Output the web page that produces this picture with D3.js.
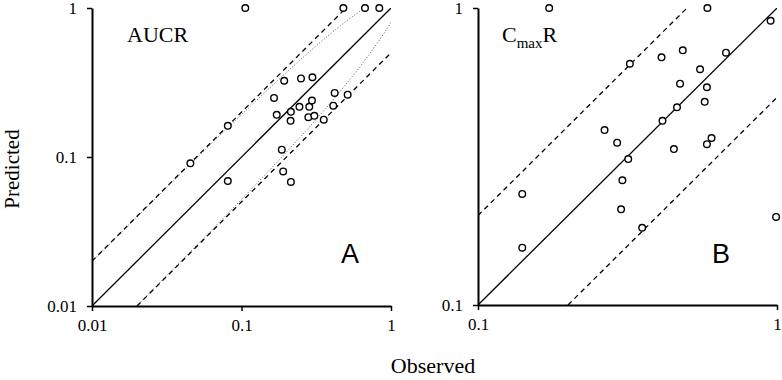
<!DOCTYPE html>
<html>
<head>
<meta charset="utf-8">
<script src="https://cdn.jsdelivr.net/npm/d3@7"></script>
<style>
  body { margin: 0; background: #fff; }
  svg { display: block; }
</style>
</head>
<body>
<div id="chart"></div>
<script>
let w = 782;
let h = 380;

// panel A - AUCR
let aucrObs  = [0.106, 0.48, 0.67, 0.835, 0.193, 0.25, 0.298, 0.165, 0.42, 0.513, 0.296, 0.284, 0.244,
                0.214, 0.411, 0.172, 0.28, 0.307, 0.213, 0.355, 0.081, 0.0455, 0.186, 0.19, 0.081, 0.214];
let aucrPred = [1, 1, 1, 1, 0.325, 0.337, 0.343, 0.249, 0.269, 0.262, 0.239, 0.217, 0.217,
                0.201, 0.221, 0.192, 0.185, 0.189, 0.175, 0.178, 0.162, 0.0907, 0.112, 0.080, 0.069, 0.068];

// panel B - CmaxR
let cmaxObs  = [0.173, 0.585, 0.952, 0.484, 0.411, 0.675, 0.322, 0.553, 0.474, 0.583, 0.573, 0.463, 0.414,
                0.265, 0.292, 0.604, 0.583, 0.452, 0.318, 0.304, 0.1406, 0.301, 0.354, 0.993, 0.1406];
let cmaxPred = [1, 1, 0.906, 0.72, 0.682, 0.707, 0.649, 0.622, 0.556, 0.541, 0.483, 0.463, 0.417,
                0.388, 0.352, 0.365, 0.348, 0.335, 0.31, 0.263, 0.2365, 0.21, 0.182, 0.198, 0.156];

let aucrTicks = [0.01, 0.1, 1];
let cmaxTicks = [0.1, 1];
let guestDelta = 1.25; // Guest limit variability

let svg = d3.select("#chart").append("svg")
  .attr("width", w)
  .attr("height", h);

function drawPanel(opt){
  let x = d3.scaleLog().domain(opt.domain).range([opt.x0, opt.x1]);
  let y = d3.scaleLog().domain(opt.domain).range([opt.y0, opt.y1]);
  let g = svg.append("g");
  let lo = opt.domain[0], hi = opt.domain[1];

  let clipId = "clip" + opt.name;
  svg.append("clipPath").attr("id", clipId)
    .append("rect")
    .attr("x", opt.x0).attr("y", opt.y1)
    .attr("width", opt.x1 - opt.x0).attr("height", opt.y0 - opt.y1);

  let lines = g.append("g").attr("clip-path", "url(#" + clipId + ")");
  let line = d3.line().x(d => x(d[0])).y(d => y(d[1]));

  // guest limit curves (dotted)
  if (opt.guest) {
    let grid = d3.range(0, 201).map(i => Math.pow(10, Math.log10(lo) + i * (Math.log10(hi) - Math.log10(lo)) / 200));
    let lim = r => 2 - (2 - guestDelta) * r;
    let up = grid.map(r => [r, r * lim(r)]).filter(d => d[1] <= 1.05);
    let dn = grid.filter(r => r >= 0.02).map(r => [r, r / lim(r)]);
    [up, dn].forEach(pts => {
      lines.append("path")
        .attr("d", line(pts))
        .attr("fill", "none")
        .attr("stroke", "#555")
        .attr("stroke-width", 1)
        .attr("stroke-dasharray", "1,2");
    });
  }

  // unity line
  lines.append("path")
    .attr("d", line([[lo, lo], [hi, hi]]))
    .attr("fill", "none").attr("stroke", "#000").attr("stroke-width", 1.3);

  // 2-fold lines
  [[[lo, 2 * lo], [hi / 2, hi]], [[2 * lo, lo], [hi, hi / 2]]].forEach(pts => {
    lines.append("path")
      .attr("d", line(pts))
      .attr("fill", "none").attr("stroke", "#000").attr("stroke-width", 1.3)
      .attr("stroke-dasharray", "5,4");
  });

  // axes
  let xAxis = d3.axisBottom(x).tickValues(opt.ticks).tickFormat(d => String(d))
    .tickSizeInner(5).tickSizeOuter(0).tickPadding(8);
  let yAxis = d3.axisLeft(y).tickValues(opt.ticks).tickFormat(d => String(d))
    .tickSizeInner(5).tickSizeOuter(0).tickPadding(opt.ypad);

  let xg = g.append("g").attr("transform", "translate(0," + opt.y0 + ")").call(xAxis);
  let yg = g.append("g").attr("transform", "translate(" + opt.x0 + ",0)").call(yAxis);
  [xg, yg].forEach(a => {
    a.select(".domain").attr("stroke-width", 2);
    a.selectAll(".tick line").attr("stroke-width", 1.5);
    a.selectAll("text")
      .style("font-family", "'Liberation Serif', 'Times New Roman', serif")
      .style("font-size", "17px")
      .attr("fill", "#000");
  });

  // points
  g.selectAll(".pt").data(opt.obs).enter()
    .append("circle")
    .attr("class", "pt")
    .attr("cx", d => x(d))
    .attr("cy", (d, i) => y(opt.pred[i]))
    .attr("r", 3.3)
    .attr("fill", "#fff")
    .attr("stroke", "#000")
    .attr("stroke-width", 1.4);

  // panel letter
  g.append("text")
    .attr("x", opt.letterX).attr("y", 263)
    .attr("text-anchor", "middle")
    .style("font-family", "'Liberation Sans', Arial, sans-serif")
    .style("font-size", "27px")
    .text(opt.letter);

  return g;
}

let gA = drawPanel({
  name: "A", domain: [0.01, 1], ticks: aucrTicks,
  x0: 92, x1: 391, y0: 306, y1: 8, ypad: 10,
  obs: aucrObs, pred: aucrPred, guest: true,
  letter: "A", letterX: 350
});

let gB = drawPanel({
  name: "B", domain: [0.1, 1], ticks: cmaxTicks,
  x0: 478, x1: 777, y0: 305, y1: 8, ypad: 10,
  obs: cmaxObs, pred: cmaxPred, guest: false,
  letter: "B", letterX: 721
});

let serif = "'Liberation Serif', 'Times New Roman', serif";

gA.append("text")
  .attr("x", 127).attr("y", 42)
  .style("font-family", serif).style("font-size", "22px")
  .text("AUCR");

let cm = gB.append("text")
  .attr("x", 502).attr("y", 42)
  .style("font-family", serif).style("font-size", "22px");
cm.append("tspan").text("C");
cm.append("tspan").attr("dy", 6).style("font-size", "15px").text("max");
cm.append("tspan").attr("dy", -6).text("R");

svg.append("text")
  .attr("transform", "translate(19,169) rotate(-90)")
  .attr("text-anchor", "middle")
  .style("font-family", serif).style("font-size", "21px")
  .text("Predicted");

svg.append("text")
  .attr("x", 433).attr("y", 373)
  .attr("text-anchor", "middle")
  .style("font-family", serif).style("font-size", "22px")
  .text("Observed");
</script>
</body>
</html>
